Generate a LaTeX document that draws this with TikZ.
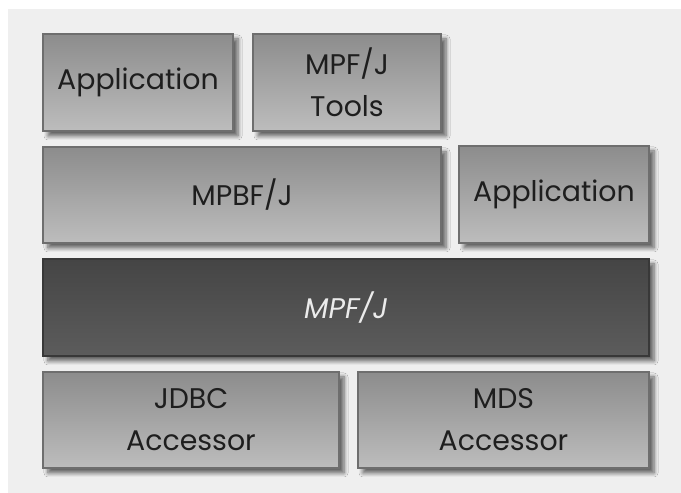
\documentclass[tikz,border=0pt]{standalone}
\usepackage{fontspec}
\usepackage{xcolor}
\usetikzlibrary{shadows.blur}
\newfontfamily\layerfont{Poppins}
\definecolor{cPage}{HTML}{EFEFEF}
\definecolor{cBoxT}{HTML}{8C8C8C}
\definecolor{cBoxB}{HTML}{BDBDBD}
\definecolor{cBoxL}{HTML}{6E6E6E}
\definecolor{cCoreT}{HTML}{454545}
\definecolor{cCoreB}{HTML}{5C5C5C}
\definecolor{cCoreL}{HTML}{383838}
\definecolor{cText}{HTML}{1E1E1E}
\tikzset{
  layer/.style={draw=cBoxL,line width=1.3pt,top color=cBoxT,bottom color=cBoxB,
      align=center,inner sep=0pt,text=cText,
      font=\layerfont\fontsize{28.5}{42}\selectfont,
      blur shadow={shadow xshift=5bp,shadow yshift=-5bp,shadow blur steps=6,
        shadow blur radius=4bp,shadow opacity=60}},
  core/.style={layer,draw=cCoreL,top color=cCoreT,bottom color=cCoreB,
      text=black!8,font=\layerfont\itshape\fontsize{28.5}{42}\selectfont},
}
\begin{document}
\begin{tikzpicture}[x=1bp,y=1bp]
  \useasboundingbox (0,0) rectangle (681,493);
  \fill[white] (0,0) rectangle (681,493);
  \fill[cPage] (8,0) rectangle (681,484);

  % top row
  \node[layer,minimum width=190bp,minimum height=97bp] (appA) at (138,410.5) {Application};
  \node[layer,minimum width=188bp,minimum height=97bp] (tools) at (347,410.5) {MPF/J\\Tools};
  % framework row
  \node[layer,minimum width=398bp,minimum height=96bp] (mpbf) at (242,298) {MPBF/J};
  \node[layer,minimum width=190bp,minimum height=97bp] (appB) at (554,298.5) {Application};
  % core
  \node[core,minimum width=606bp,minimum height=97bp] (mpfj) at (346,185.5) {MPF/J};
  % accessors
  \node[layer,minimum width=296bp,minimum height=96bp] (jdbc) at (191,73) {JDBC\\Accessor};
  \node[layer,minimum width=291bp,minimum height=96bp] (mds) at (503.5,73) {MDS\\Accessor};
\end{tikzpicture}
\end{document}
